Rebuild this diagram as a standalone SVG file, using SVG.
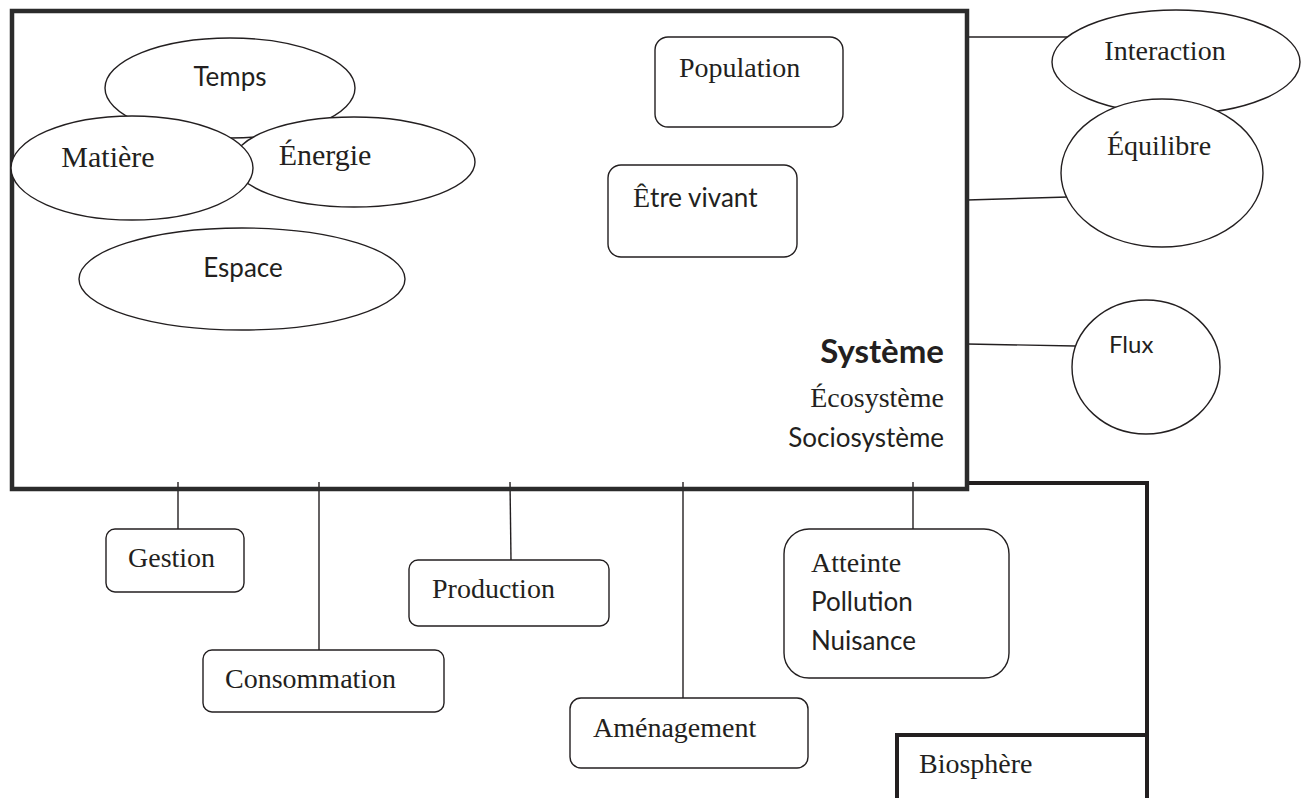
<svg xmlns="http://www.w3.org/2000/svg" width="1307" height="798" viewBox="0 0 1307 798">
<style>
.frame{fill:none;stroke:#2b2b2b;stroke-width:4.5}
.bio{fill:none;stroke:#231f20;stroke-width:4}
.node{fill:#fff;stroke:#231f20;stroke-width:1.4}
.conn{fill:none;stroke:#231f20;stroke-width:1.4}
.serif{font-family:"Liberation Serif","Times New Roman",serif;fill:#231f20;font-size:28px}
.sans{font-family:Lato,"Open Sans","Liberation Sans",sans-serif;fill:#231f20;font-size:26px}
</style>
<rect width="1307" height="798" fill="#fff"/>
<g id="biosphere-frame">
<path class="bio" d="M967,483 H1147 V798"/>
</g>
<g id="biosphere">
<path class="bio" d="M897,798 V735 H1147"/>
<text class="serif" x="919" y="773">Biosphère</text>
</g>
<g id="connectors">
<line class="conn" x1="967" y1="37" x2="1070" y2="37"/>
<line class="conn" x1="967" y1="200" x2="1068" y2="197"/>
<line class="conn" x1="967" y1="344" x2="1075" y2="346"/>
<line class="conn" x1="178" y1="482" x2="178" y2="529"/>
<line class="conn" x1="319" y1="482" x2="319" y2="650"/>
<line class="conn" x1="510" y1="482" x2="511" y2="560"/>
<line class="conn" x1="683" y1="482" x2="683" y2="698"/>
<line class="conn" x1="913" y1="482" x2="913" y2="529"/>
</g>
<g id="systeme">
<rect class="frame" x="12" y="11" width="955" height="478"/>
<text class="sans" x="944" y="363" style="font-size:33px" font-weight="bold" text-anchor="end">Système</text>
<text class="serif" x="944" y="407" text-anchor="end">Écosystème</text>
<text class="sans" x="944" y="447" text-anchor="end">Sociosystème</text>
</g>
<g id="temps">
<ellipse class="node" cx="230" cy="88" rx="125" ry="50"/>
<text class="sans" x="230" y="86" text-anchor="middle">Temps</text>
</g>
<g id="energie">
<ellipse class="node" cx="354" cy="162" rx="121" ry="45"/>
<text class="serif" x="325" y="165" style="font-size:30px" text-anchor="middle">Énergie</text>
</g>
<g id="matiere">
<ellipse class="node" cx="132" cy="168" rx="121" ry="52"/>
<text class="serif" x="108" y="167" style="font-size:30px" text-anchor="middle">Matière</text>
</g>
<g id="espace">
<ellipse class="node" cx="242" cy="279" rx="163" ry="51"/>
<text class="sans" x="243" y="277" text-anchor="middle">Espace</text>
</g>
<g id="population">
<rect class="node" x="655" y="37" width="188" height="90" rx="13"/>
<text class="serif" x="679" y="77">Population</text>
</g>
<g id="etre-vivant">
<rect class="node" x="608" y="165" width="189" height="92" rx="13"/>
<text class="sans" x="633" y="207"><tspan class="serif" style="font-size:28px">Ê</tspan>tre vivant</text>
</g>
<g id="interaction">
<ellipse class="node" cx="1176" cy="62" rx="124" ry="52"/>
<text class="serif" x="1165" y="60" text-anchor="middle">Interaction</text>
</g>
<g id="equilibre">
<ellipse class="node" cx="1162" cy="173" rx="101" ry="74"/>
<text class="serif" x="1159" y="155" text-anchor="middle">Équilibre</text>
</g>
<g id="flux">
<ellipse class="node" cx="1146" cy="367" rx="74" ry="67"/>
<text class="sans" x="1109" y="353" style="font-size:24px">Flux</text>
</g>
<g id="gestion">
<rect class="node" x="106" y="529" width="138" height="63" rx="9"/>
<text class="serif" x="128" y="567">Gestion</text>
</g>
<g id="consommation">
<rect class="node" x="203" y="650" width="241" height="62" rx="9"/>
<text class="serif" x="225" y="688">Consommation</text>
</g>
<g id="production">
<rect class="node" x="409" y="560" width="200" height="66" rx="9"/>
<text class="serif" x="432" y="598">Production</text>
</g>
<g id="amenagement">
<rect class="node" x="570" y="698" width="238" height="70" rx="11"/>
<text class="serif" x="593" y="737">Aménagement</text>
</g>
<g id="atteinte">
<rect class="node" x="784" y="529" width="225" height="149" rx="25"/>
<text class="serif" x="811" y="572">Atteinte</text>
<text class="sans" x="811" y="611">Pollution</text>
<text class="sans" x="811" y="650">Nuisance</text>
</g>
</svg>
